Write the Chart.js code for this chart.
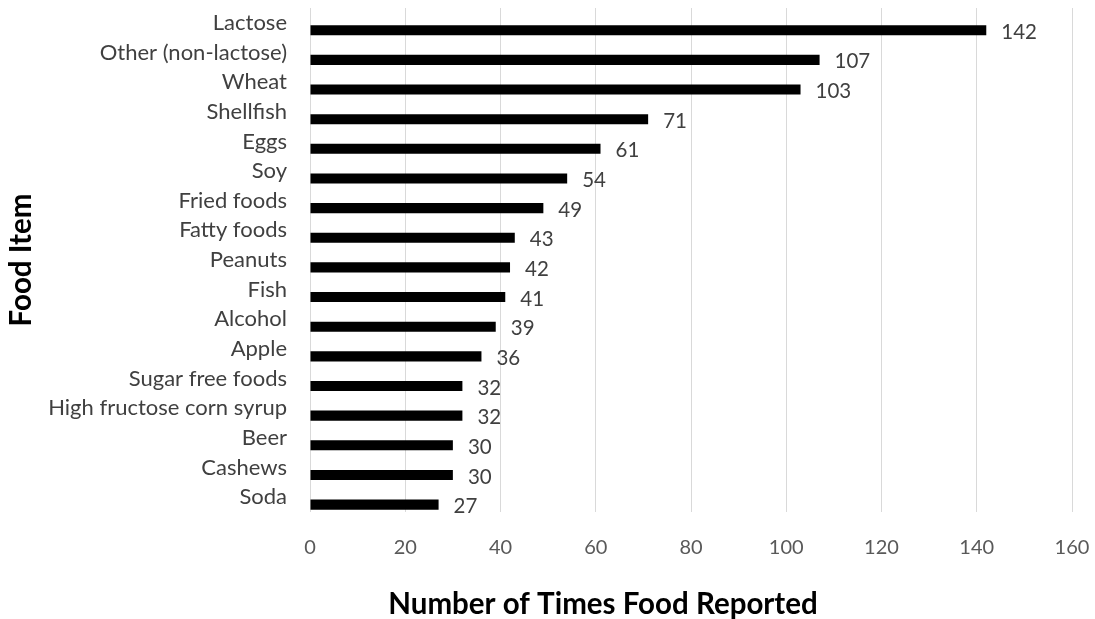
<!DOCTYPE html>
<html>
<head>
<meta charset="utf-8">
<script src="https://cdn.jsdelivr.net/npm/chart.js@4/dist/chart.umd.min.js"></script>
<style>
  html, body { margin: 0; padding: 0; background: #fff; }
  #chart { display: block; }
</style>
</head>
<body>
<canvas id="chart" width="1095" height="619"></canvas>
<script>
const foodItems = [
    'Lactose', 'Other (non-lactose)', 'Wheat', 'Shellfish', 'Eggs', 'Soy',
    'Fried foods', 'Fatty foods', 'Peanuts', 'Fish', 'Alcohol', 'Apple',
    'Sugar free foods', 'High fructose corn syrup', 'Beer', 'Cashews', 'Soda'
];
const timesReported = [142, 107, 103, 71, 61, 54, 49, 43, 42, 41, 39, 36, 32, 32, 30, 30, 27];
const xTicks = [0, 20, 40, 60, 80, 100, 120, 140, 160];

const xTitle = 'Number of Times Food Reported';
const yTitle = 'Food Item';

// etiquetas de valor a la derecha de cada barra
const valueLabels = {
    id: 'valueLabels',
    afterDatasetsDraw(chart) {
        const ctx = chart.ctx;
        const meta = chart.getDatasetMeta(1);
        ctx.save();
        ctx.font = '20.5px Lato';
        ctx.fillStyle = '#404040';
        ctx.textAlign = 'left';
        ctx.textBaseline = 'middle';
        meta.data.forEach((bar, i) => {
            ctx.fillText(String(timesReported[i]), bar.x + 15, bar.y + 2);
        });
        ctx.restore();
    }
};

// titulo del eje x (no centrado en el area, como en el original)
const xAxisTitle = {
    id: 'xAxisTitle',
    afterDraw(chart) {
        const ctx = chart.ctx;
        ctx.save();
        ctx.font = 'bold 29.5px Lato';
        ctx.fillStyle = '#000';
        ctx.textAlign = 'center';
        ctx.textBaseline = 'middle';
        ctx.fillText(xTitle, 603, 604);
        ctx.restore();
    }
};

new Chart(document.getElementById('chart'), {
    type: 'bar',
    data: {
        labels: foodItems,
        datasets: [
            {
                // hueco vacio para bajar las barras respecto a las etiquetas
                label: '',
                data: foodItems.map(() => null),
                backgroundColor: 'rgba(0,0,0,0)'
            },
            {
                label: xTitle,
                data: timesReported,
                backgroundColor: '#000000',
                borderWidth: 0
            }
        ]
    },
    options: {
        indexAxis: 'y',
        responsive: false,
        animation: false,
        layout: { padding: { top: 8, right: 23, bottom: 0, left: 0 } },
        datasets: {
            bar: { categoryPercentage: 1, barPercentage: 0.68 }
        },
        plugins: {
            legend: { display: false },
            tooltip: { enabled: false }
        },
        scales: {
            x: {
                min: 0,
                max: 160,
                afterBuildTicks(scale) {
                    scale.ticks = xTicks.map(v => ({ value: v }));
                },
                grid: { color: '#d9d9d9', lineWidth: 1, drawTicks: false },
                border: { display: false },
                ticks: {
                    color: '#595959',
                    font: { family: 'Lato', size: 20 },
                    padding: 24,
                    maxRotation: 0
                },
                afterFit(scale) {
                    scale.height = 107;
                    scale.paddingLeft = 0;
                    scale.paddingRight = 0;
                }
            },
            y: {
                grid: { display: false, drawTicks: false },
                border: { display: false },
                ticks: {
                    color: '#404040',
                    font: { family: 'Lato', size: 22 },
                    padding: 23,
                    autoSkip: false
                },
                title: {
                    display: true,
                    text: yTitle,
                    color: '#000',
                    font: { family: 'Lato', size: 29.5, weight: 'bold', lineHeight: 1 },
                    padding: { top: 7, bottom: 0 }
                },
                afterFit(scale) {
                    scale.width = 310;
                    scale.paddingTop = 0;
                    scale.paddingBottom = 0;
                }
            }
        }
    },
    plugins: [valueLabels, xAxisTitle]
});
</script>
</body>
</html>
